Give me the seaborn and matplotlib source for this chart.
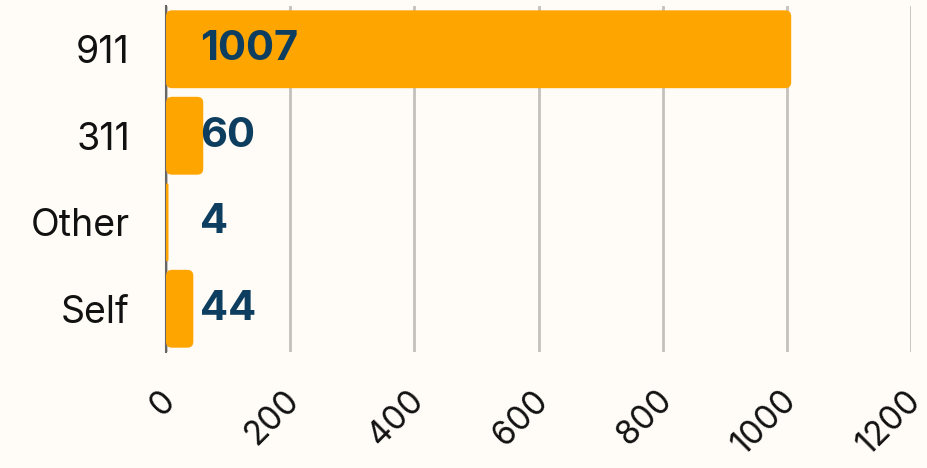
import matplotlib
matplotlib.use("Agg")
import matplotlib.pyplot as plt
import matplotlib.transforms as mtransforms
import seaborn as sns
import pandas as pd
from matplotlib.patches import FancyBboxPatch

# data
sources = ["911", "311", "Other", "Self"]
counts = [1007, 60, 4, 44]
x_ticks = [0, 200, 400, 600, 800, 1000, 1200]

bg = "#FFFBF6"
bar_color = "#FFA500"
label_color = "#0D3D5F"

sns.set_style("white")
plt.rcParams["font.family"] = ["Inter", "DejaVu Sans"]

df = pd.DataFrame({"Source": sources, "Count": counts})

fig = plt.figure(figsize=(9.28, 4.68), dpi=100, facecolor=bg)
ax = fig.add_axes([166 / 928, 1 - 352 / 468, 745 / 928, 346 / 468])
ax.set_facecolor(bg)

sns.barplot(data=df, y="Source", x="Count", color=bar_color, width=0.9,
            saturation=1, ax=ax, zorder=3)

# swap the plain rectangles for rounded ones
px_x = 1200 / 745
px_y = 4 / 346
for p in list(ax.patches):
    x0, y0 = p.get_x(), p.get_y()
    w, h = p.get_width(), p.get_height()
    r = min(6 * px_x, w / 2)
    fb = FancyBboxPatch((x0, y0), w, h,
                        boxstyle=f"round,pad=0,rounding_size={r}",
                        mutation_aspect=px_y / px_x,
                        facecolor=bar_color, edgecolor="none", zorder=3)
    p.remove()
    ax.add_patch(fb)

for i, v in enumerate(counts):
    ax.text(55, i, str(v), ha="left", va="center", fontsize=30,
            fontweight="bold", color=label_color, zorder=4)

ax.set_xlim(0, 1200)
ax.set_xticks(x_ticks)
ax.set_xticklabels([])

# rotated x tick labels, nudged right of their tick like the original
trans = mtransforms.blended_transform_factory(ax.transData, ax.transAxes)
trans = trans + mtransforms.ScaledTranslation(11 / 100, -50 / 100,
                                              fig.dpi_scale_trans)
for t in x_ticks:
    ax.text(t, 0, str(t), transform=trans, rotation=45, ha="right",
            va="baseline", rotation_mode="anchor", fontsize=24,
            color="#111111")

ax.tick_params(axis="x", length=0)
ax.tick_params(axis="y", length=0, pad=26, labelsize=27, labelcolor="#111111")
ax.grid(axis="x", color="#C4C1BC", linewidth=2, zorder=0)
ax.grid(axis="y", visible=False)
for s in ["top", "right", "bottom"]:
    ax.spines[s].set_visible(False)
ax.spines["left"].set_color("#666666")
ax.spines["left"].set_linewidth(1.5)
ax.set_xlabel("")
ax.set_ylabel("")

fig.savefig("out.png", dpi=100, facecolor=bg)
